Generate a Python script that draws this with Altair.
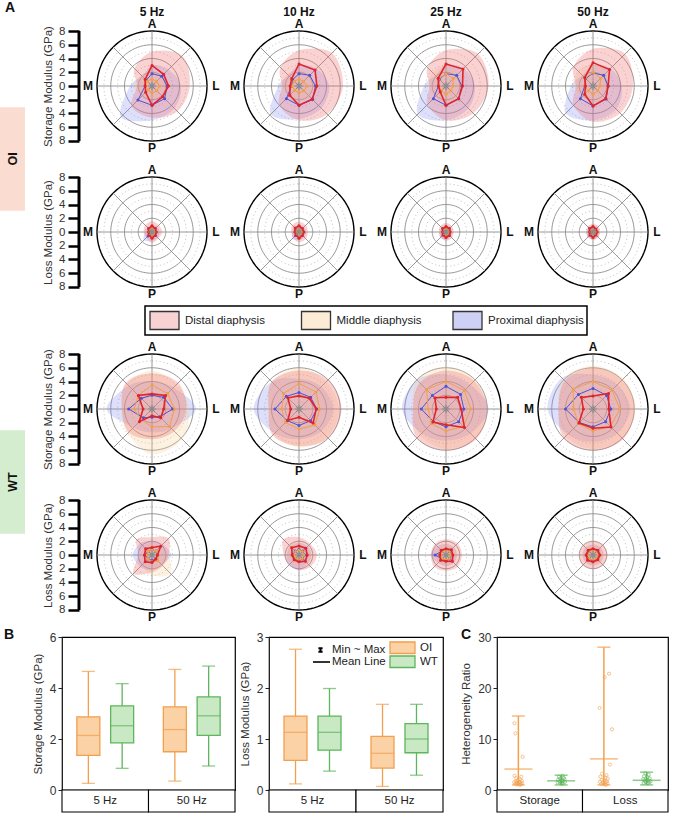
import math
import pandas as pd
import altair as alt

FONT = "Liberation Sans"

# ---------------- radar data (GPa), directions clockwise from anterior ----------------
DIRECTIONS = ["A", "A-L", "L", "L-P", "P", "P-M", "M", "M-A"]
ANGLES = [0, 45, 90, 135, 180, 225, 270, 315]
FREQS = ["5 Hz", "10 Hz", "25 Hz", "50 Hz"]
SERIES = ["Distal diaphysis", "Middle diaphysis", "Proximal diaphysis"]
GROUPS = ["OI", "WT"]

# OI storage modulus
OI_STORAGE_DISTAL_MEAN = [[3.0, 2.4, 2.4, 2.2, 2.8, 1.3, 1.0, 1.4],
                          [3.2, 3.3, 2.6, 2.7, 2.8, 1.9, 1.3, 1.5],
                          [3.2, 3.5, 2.4, 2.6, 2.8, 1.2, 1.1, 1.6],
                          [3.4, 3.4, 2.2, 2.6, 2.9, 1.7, 1.1, 1.7]]
OI_STORAGE_DISTAL_UPPER = [[5.0, 6.2, 5.5, 5.2, 4.6, 4.2, 2.2, 3.6],
                           [5.2, 6.8, 6.4, 5.8, 5.0, 4.0, 2.5, 3.8],
                           [5.2, 6.6, 6.2, 5.6, 5.0, 3.8, 2.4, 3.8],
                           [5.4, 6.6, 5.8, 5.6, 5.2, 4.0, 2.5, 4.0]]
OI_STORAGE_MIDDLE_MEAN = [[1.0, 0.9, 1.1, 1.0, 1.0, 0.8, 0.9, 1.0],
                          [1.0, 0.9, 1.2, 1.0, 1.0, 0.9, 1.0, 1.0],
                          [1.8, 1.5, 1.0, 1.0, 1.2, 1.0, 1.0, 1.5],
                          [2.0, 1.6, 1.0, 1.0, 1.2, 1.0, 1.2, 1.6]]
OI_STORAGE_MIDDLE_UPPER = [[2.2, 2.0, 2.2, 2.0, 2.0, 2.0, 2.8, 2.2],
                           [2.4, 2.2, 2.2, 2.2, 2.2, 2.0, 2.6, 2.4],
                           [3.0, 2.8, 2.4, 2.2, 2.4, 2.2, 2.6, 2.8],
                           [3.2, 3.0, 2.4, 2.2, 2.4, 2.2, 2.8, 3.0]]
OI_STORAGE_PROXIMAL_MEAN = [[1.8, 2.0, 2.2, 2.6, 2.8, 2.9, 1.0, 1.2],
                            [1.8, 2.2, 2.4, 2.8, 2.8, 2.6, 1.1, 1.3],
                            [1.8, 2.2, 2.3, 2.6, 2.8, 2.6, 1.1, 1.4],
                            [1.9, 2.2, 2.2, 2.7, 2.9, 2.6, 1.2, 1.5]]
OI_STORAGE_PROXIMAL_UPPER = [[3.0, 3.4, 4.2, 4.6, 5.0, 6.4, 3.2, 2.0],
                             [3.0, 3.6, 4.4, 4.6, 4.8, 5.8, 3.0, 2.2],
                             [3.0, 3.6, 4.2, 4.6, 5.0, 5.8, 3.2, 2.2],
                             [3.0, 3.6, 4.2, 4.8, 5.0, 5.6, 3.2, 2.2]]

# OI loss modulus
OI_LOSS_DISTAL_MEAN = [[0.9, 0.7, 0.6, 0.7, 0.9, 0.6, 0.5, 0.7],
                       [0.9, 0.7, 0.7, 0.7, 0.9, 0.6, 0.6, 0.8],
                       [0.8, 0.7, 0.6, 0.7, 0.8, 0.6, 0.5, 0.7],
                       [0.8, 0.6, 0.6, 0.6, 0.8, 0.6, 0.5, 0.7]]
OI_LOSS_DISTAL_UPPER = [[1.6, 1.4, 1.5, 1.3, 1.6, 1.2, 1.2, 1.4],
                        [1.5, 1.4, 1.3, 1.4, 1.5, 1.2, 1.1, 1.4],
                        [1.3, 1.2, 1.1, 1.2, 1.3, 1.1, 1.0, 1.2],
                        [1.2, 1.1, 1.0, 1.1, 1.2, 1.0, 1.0, 1.1]]
OI_LOSS_MIDDLE_MEAN = [[0.5, 0.4, 0.5, 0.4, 0.5, 0.4, 0.5, 0.4],
                       [0.5, 0.4, 0.5, 0.4, 0.5, 0.4, 0.5, 0.4],
                       [0.5, 0.4, 0.4, 0.4, 0.5, 0.4, 0.4, 0.4],
                       [0.5, 0.4, 0.4, 0.4, 0.5, 0.4, 0.4, 0.4]]
OI_LOSS_MIDDLE_UPPER = [[0.9, 0.8, 0.9, 0.8, 0.9, 0.8, 1.0, 0.8],
                        [0.9, 0.8, 0.9, 0.8, 0.9, 0.8, 0.9, 0.8],
                        [0.8, 0.8, 0.8, 0.8, 0.8, 0.8, 0.8, 0.8],
                        [0.8, 0.8, 0.8, 0.8, 0.8, 0.8, 0.8, 0.8]]
OI_LOSS_PROXIMAL_MEAN = [[0.5, 0.5, 0.6, 0.6, 0.7, 0.8, 0.5, 0.4],
                         [0.5, 0.5, 0.6, 0.6, 0.7, 0.7, 0.5, 0.4],
                         [0.5, 0.5, 0.5, 0.6, 0.6, 0.6, 0.5, 0.4],
                         [0.5, 0.5, 0.5, 0.5, 0.6, 0.6, 0.5, 0.4]]
OI_LOSS_PROXIMAL_UPPER = [[1.0, 1.0, 1.1, 1.2, 1.3, 1.7, 1.0, 0.9],
                          [1.0, 1.0, 1.0, 1.1, 1.2, 1.4, 0.9, 0.9],
                          [0.9, 0.9, 0.9, 1.0, 1.1, 1.2, 0.9, 0.8],
                          [0.9, 0.9, 0.9, 1.0, 1.0, 1.1, 0.9, 0.8]]

# WT storage modulus
WT_STORAGE_DISTAL_MEAN = [[2.2, 2.8, 1.7, 1.8, 1.0, 2.6, 1.3, 2.8],
                          [1.9, 2.2, 2.5, 2.9, 1.2, 2.3, 1.2, 2.3],
                          [1.7, 2.4, 2.2, 3.8, 2.3, 2.7, 1.4, 2.3],
                          [1.9, 3.2, 2.3, 3.7, 2.8, 2.9, 1.4, 2.4]]
WT_STORAGE_DISTAL_UPPER = [[5.2, 5.4, 5.0, 4.6, 4.4, 4.8, 4.4, 5.4],
                           [5.6, 6.0, 6.2, 6.0, 5.4, 5.4, 4.4, 5.6],
                           [5.6, 5.8, 6.0, 6.2, 6.0, 6.0, 4.8, 5.4],
                           [6.0, 6.0, 6.0, 6.2, 6.0, 6.0, 5.0, 5.8]]
WT_STORAGE_MIDDLE_MEAN = [[3.5, 3.2, 3.3, 3.6, 2.6, 2.2, 2.6, 2.8],
                          [3.7, 3.5, 3.0, 3.3, 2.9, 2.8, 2.5, 3.2],
                          [4.0, 3.8, 3.6, 3.6, 3.2, 3.0, 2.6, 4.0],
                          [4.0, 3.9, 3.9, 3.6, 3.2, 3.0, 2.8, 4.1]]
WT_STORAGE_MIDDLE_UPPER = [[5.6, 5.0, 5.4, 6.2, 6.6, 5.0, 4.4, 5.2],
                           [6.0, 5.6, 5.8, 5.8, 5.6, 5.2, 4.6, 5.6],
                           [6.2, 6.0, 6.0, 6.0, 5.8, 5.4, 4.8, 6.0],
                           [6.3, 6.2, 6.2, 6.0, 5.8, 5.6, 5.0, 6.2]]
WT_STORAGE_PROXIMAL_MEAN = [[2.0, 2.4, 3.0, 1.6, 1.2, 1.8, 3.4, 2.2],
                            [2.4, 2.4, 2.6, 2.4, 2.4, 2.4, 3.5, 2.6],
                            [3.3, 3.0, 2.6, 2.6, 2.6, 2.6, 3.6, 2.8],
                            [3.0, 2.8, 2.6, 2.6, 2.6, 2.8, 4.0, 3.0]]
WT_STORAGE_PROXIMAL_UPPER = [[4.0, 4.4, 6.4, 4.0, 3.4, 3.8, 6.6, 4.8],
                             [4.4, 4.6, 5.0, 4.6, 4.4, 5.0, 6.6, 5.6],
                             [5.0, 5.0, 6.2, 5.0, 4.6, 5.0, 6.4, 6.0],
                             [5.0, 5.0, 5.4, 5.0, 4.8, 5.2, 6.6, 6.4]]

# WT loss modulus
WT_LOSS_DISTAL_MEAN = [[1.1, 1.8, 0.8, 0.8, 1.1, 1.4, 1.1, 1.3],
                       [1.3, 1.4, 1.2, 1.3, 1.0, 1.0, 1.0, 1.5],
                       [0.9, 1.1, 1.0, 1.3, 0.9, 1.1, 0.9, 1.0],
                       [0.9, 1.0, 1.0, 1.0, 1.0, 1.1, 1.0, 1.0]]
WT_LOSS_DISTAL_UPPER = [[2.6, 3.4, 2.4, 2.2, 2.5, 3.8, 2.0, 3.2],
                        [2.6, 2.3, 2.6, 2.4, 2.2, 2.0, 2.2, 3.2],
                        [2.3, 2.4, 2.3, 2.4, 2.3, 2.4, 2.2, 2.3],
                        [2.0, 2.1, 2.1, 2.1, 2.0, 2.1, 2.0, 2.0]]
WT_LOSS_MIDDLE_MEAN = [[0.8, 0.8, 0.9, 1.2, 1.0, 0.8, 0.7, 0.8],
                       [0.7, 0.7, 0.7, 0.7, 0.7, 0.7, 0.7, 0.7],
                       [0.7, 0.7, 0.7, 0.7, 0.7, 0.7, 0.7, 0.7],
                       [0.7, 0.7, 0.7, 0.7, 0.7, 0.7, 0.7, 0.7]]
WT_LOSS_MIDDLE_UPPER = [[1.8, 1.8, 2.4, 3.8, 3.0, 2.0, 1.6, 1.8],
                        [1.8, 1.6, 1.8, 1.8, 1.6, 1.6, 1.6, 2.0],
                        [1.6, 1.6, 1.6, 1.6, 1.6, 1.6, 1.6, 1.6],
                        [1.6, 1.6, 1.6, 1.6, 1.6, 1.6, 1.6, 1.6]]
WT_LOSS_PROXIMAL_MEAN = [[0.8, 0.8, 0.8, 0.8, 0.8, 0.8, 1.0, 0.8],
                         [0.8, 0.8, 0.8, 0.8, 0.8, 0.8, 0.9, 0.8],
                         [0.8, 0.8, 0.8, 0.8, 0.8, 0.8, 1.6, 0.8],
                         [0.8, 0.8, 0.8, 0.8, 0.8, 0.8, 0.9, 0.8]]
WT_LOSS_PROXIMAL_UPPER = [[2.0, 2.2, 2.8, 2.0, 2.2, 2.4, 2.8, 2.4],
                          [1.8, 1.8, 1.8, 1.8, 2.2, 2.0, 1.8, 1.8],
                          [1.6, 1.6, 1.6, 1.6, 1.6, 1.6, 2.2, 1.8],
                          [1.5, 1.5, 1.5, 1.5, 1.5, 1.5, 1.5, 1.5]]

# radar grid
RING_MINOR = [1, 3, 5, 7]
RING_MAJOR = [2, 4, 6]
RING_OUTER = [8]
AXIS_TICKS = [-8, -6, -4, -2, 0, 2, 4, 6, 8]
POLE_LABELS = ["A", "L", "P", "M"]
POLE_ANGLES = [0, 90, 180, 270]
POLE_OFFSET = [8.95, 9.3, 8.95, 9.3]

# ---------------- panel B (box plots) ----------------
BOX_FREQ = ["5 Hz", "5 Hz", "50 Hz", "50 Hz"]
BOX_GROUP = ["OI", "WT", "OI", "WT"]
STORAGE_MIN = [0.26, 0.85, 0.35, 0.94]
STORAGE_Q1 = [1.36, 1.85, 1.50, 2.14]
STORAGE_MEAN = [2.14, 2.52, 2.37, 2.91]
STORAGE_Q3 = [2.87, 3.30, 3.26, 3.65]
STORAGE_MAX = [4.65, 4.17, 4.73, 4.86]
LOSS_MIN = [0.12, 0.37, 0.07, 0.29]
LOSS_Q1 = [0.58, 0.78, 0.43, 0.73]
LOSS_MEAN = [1.13, 1.13, 0.72, 1.00]
LOSS_Q3 = [1.45, 1.45, 1.05, 1.30]
LOSS_MAX = [2.76, 1.99, 1.68, 1.68]

# ---------------- panel C (heterogeneity ratio) ----------------
HR_CAT = ["Storage", "Storage", "Loss", "Loss"]
HR_GROUP = ["OI", "WT", "OI", "WT"]
HR_MIN = [1.0, 1.0, 1.0, 1.0]
HR_MEAN = [4.1, 1.8, 6.1, 1.9]
HR_MAX = [14.5, 2.9, 28.0, 3.5]
HR_STORAGE_OI = [13.1, 11.1, 6.5, 2.8, 2.6, 2.3, 2.1, 1.9, 1.8, 1.7, 1.6, 1.5, 1.4, 1.4, 1.3, 1.2, 1.2, 1.1, 1.1, 1.0]
HR_STORAGE_OI_JITTER = [-0.09, -0.07, 0.10, -0.09, 0.07, -0.05, 0.04, -0.02, 0.08, -0.06, 0.02, -0.10, 0.05, -0.03, 0.09, 0.00, -0.07, 0.06, -0.04, 0.03]
HR_STORAGE_WT = [2.8, 2.6, 2.4, 2.3, 2.1, 2.0, 1.9, 1.8, 1.7, 1.6, 1.5, 1.4, 1.3, 1.2]
HR_STORAGE_WT_JITTER = [0.03, -0.05, 0.06, -0.02, 0.08, -0.07, 0.01, 0.05, -0.04, 0.09, -0.08, 0.02, -0.01, 0.04]
HR_LOSS_OI = [22.8, 22.1, 16.1, 11.9, 5.0, 3.2, 2.9, 2.6, 2.4, 2.2, 2.0, 1.9, 1.7, 1.6, 1.5, 1.4, 1.3, 1.2, 1.1, 1.0]
HR_LOSS_OI_JITTER = [0.12, 0.02, -0.10, 0.19, 0.14, -0.04, 0.06, -0.08, 0.03, 0.09, -0.05, 0.01, 0.07, -0.09, 0.04, -0.02, 0.08, -0.06, 0.00, 0.05]
HR_LOSS_WT = [3.3, 3.0, 2.7, 2.5, 2.3, 2.1, 2.0, 1.9, 1.8, 1.7, 1.6, 1.5, 1.4, 1.3]
HR_LOSS_WT_JITTER = [-0.03, 0.05, -0.06, 0.02, 0.07, -0.08, 0.00, 0.04, -0.05, 0.09, -0.02, 0.06, -0.07, 0.03]

# ---------------- styles ----------------
SERIES_FILL = ["#ef6b6b", "#f9c98a", "#8088ef"]
SERIES_OPACITY = [0.3, 0.26, 0.26]
SERIES_LINE = ["#e0242c", "#f0a04b", "#4c52d6"]
SWATCH_FILL = ["#f8d2d2", "#fcebd5", "#cfd0f6"]
DARK = ["#f2a04e", "#5db55d"]
LIGHT = ["#fbd1a6", "#c9e8c4"]
OI_STRIP = "#fadcd1"
WT_STRIP = "#d5edcf"
STAR = "M0,-1V1M-1,0H1M-0.7,-0.7L0.7,0.7M-0.7,0.7L0.7,-0.7"
SWATCH_SHAPE = "M-1,-0.62H1V0.62H-1Z"
IBEAM = "M-0.4,-0.35H0.4M0,-0.35V0.35M-0.4,0.35H0.4"
LEGEND_KINDS = ["Min ~ Max", "Mean Line"]
TXT = 11.5

RD = 10.62       # half extent of a radar panel in GPa
PW = 146         # radar panel size (px)
HEADER_POS = 10.5
RING_STEP = 4    # sampling step (degrees) used to trace the circular grid lines

SOURCES = {
    ("OI", "Storage", 0, "mean"): OI_STORAGE_DISTAL_MEAN, ("OI", "Storage", 0, "upper"): OI_STORAGE_DISTAL_UPPER,
    ("OI", "Storage", 1, "mean"): OI_STORAGE_MIDDLE_MEAN, ("OI", "Storage", 1, "upper"): OI_STORAGE_MIDDLE_UPPER,
    ("OI", "Storage", 2, "mean"): OI_STORAGE_PROXIMAL_MEAN, ("OI", "Storage", 2, "upper"): OI_STORAGE_PROXIMAL_UPPER,
    ("OI", "Loss", 0, "mean"): OI_LOSS_DISTAL_MEAN, ("OI", "Loss", 0, "upper"): OI_LOSS_DISTAL_UPPER,
    ("OI", "Loss", 1, "mean"): OI_LOSS_MIDDLE_MEAN, ("OI", "Loss", 1, "upper"): OI_LOSS_MIDDLE_UPPER,
    ("OI", "Loss", 2, "mean"): OI_LOSS_PROXIMAL_MEAN, ("OI", "Loss", 2, "upper"): OI_LOSS_PROXIMAL_UPPER,
    ("WT", "Storage", 0, "mean"): WT_STORAGE_DISTAL_MEAN, ("WT", "Storage", 0, "upper"): WT_STORAGE_DISTAL_UPPER,
    ("WT", "Storage", 1, "mean"): WT_STORAGE_MIDDLE_MEAN, ("WT", "Storage", 1, "upper"): WT_STORAGE_MIDDLE_UPPER,
    ("WT", "Storage", 2, "mean"): WT_STORAGE_PROXIMAL_MEAN, ("WT", "Storage", 2, "upper"): WT_STORAGE_PROXIMAL_UPPER,
    ("WT", "Loss", 0, "mean"): WT_LOSS_DISTAL_MEAN, ("WT", "Loss", 0, "upper"): WT_LOSS_DISTAL_UPPER,
    ("WT", "Loss", 1, "mean"): WT_LOSS_MIDDLE_MEAN, ("WT", "Loss", 1, "upper"): WT_LOSS_MIDDLE_UPPER,
    ("WT", "Loss", 2, "mean"): WT_LOSS_PROXIMAL_MEAN, ("WT", "Loss", 2, "upper"): WT_LOSS_PROXIMAL_UPPER,
}

rows = []
for (g, m, si, k), arr in SOURCES.items():
    for fi, f in enumerate(FREQS):
        for i, (d, a) in enumerate(zip(DIRECTIONS, ANGLES)):
            rows.append(dict(group=g, modulus=m, series=SERIES[si], kind=k, freq=f,
                             idx=i, dir=d, angle=a, value=arr[fi][i]))
RADAR = pd.DataFrame(rows)


def ring_frame(radii):
    out = []
    for r in radii:
        for deg in range(0, 360 + RING_STEP, RING_STEP):
            out.append(dict(ring=r, value=r, angle=deg))
    return pd.DataFrame(out)


RINGS = [(ring_frame(RING_MINOR), dict(color="#bdbdbd", strokeWidth=0.8, strokeDash=[1.2, 2.6])),
         (ring_frame(RING_MAJOR), dict(color="#8c8c8c", strokeWidth=0.9)),
         (ring_frame(RING_OUTER), dict(color="black", strokeWidth=1.4))]


def polar(ch):
    return ch.transform_calculate(px="datum.value*sin(datum.angle*PI/180)",
                                  py="datum.value*cos(datum.angle*PI/180)")


def radar_panel(g, m, fi, first, header):
    sub = RADAR[(RADAR["group"] == g) & (RADAR["modulus"] == m) & (RADAR["freq"] == FREQS[fi])]
    xs = alt.Scale(domain=[-RD, RD], nice=False, zero=False)
    ys = alt.Scale(domain=[-RD, RD], nice=False, zero=False)
    if first:
        ax = alt.Axis(values=AXIS_TICKS, labelExpr="abs(datum.value)", title=f"{m} Modulus (GPa)",
                      domain=False, grid=False, tickColor="black", tickWidth=2.5, tickSize=11,
                      labelFontSize=11.5, labelColor="#333", labelPadding=3, titleFontSize=TXT,
                      titleFontWeight="normal", titleColor="#333", titlePadding=5)
    else:
        ax = None

    def X(f):
        return alt.X(f, type="quantitative", scale=xs, axis=None)

    def Y(f):
        return alt.Y(f, type="quantitative", scale=ys, axis=ax)

    layers = []
    for frame, style in RINGS:
        layers.append(polar(alt.Chart(frame)).mark_line(**style).encode(
            x=X("px"), y=Y("py"), detail="ring:N", order=alt.Order("angle:Q")))

    spokes = pd.DataFrame({"angle": ANGLES, "value": [RING_OUTER[0]] * len(ANGLES), "origin": [0] * len(ANGLES)})
    layers.append(polar(alt.Chart(spokes)).mark_rule(color="#8c8c8c", strokeWidth=0.9).encode(
        x=X("origin"), y=Y("origin"), x2="px:Q", y2="py:Q"))

    for si in [2, 1, 0]:
        d = sub[(sub["series"] == SERIES[si]) & (sub["kind"] == "upper")]
        layers.append(polar(alt.Chart(d)).mark_line(
            interpolate="cardinal-closed", fill=SERIES_FILL[si], fillOpacity=SERIES_OPACITY[si],
            strokeOpacity=0).encode(x=X("px"), y=Y("py"), order=alt.Order("idx:Q")))

    for si in [2, 1, 0]:
        d = sub[(sub["series"] == SERIES[si]) & (sub["kind"] == "mean")]
        c = polar(alt.Chart(d))
        layers.append(c.mark_line(interpolate="linear-closed", color=SERIES_LINE[si],
                                  strokeWidth=1.6 if si == 0 else 1.0).encode(
            x=X("px"), y=Y("py"), order=alt.Order("idx:Q")))
        layers.append(c.mark_circle(size=9, color=SERIES_LINE[si], opacity=1).encode(x=X("px"), y=Y("py")))

    layers.append(alt.Chart(pd.DataFrame({"origin": [0]})).mark_point(
        shape=STAR, size=70, stroke="#8a8a8a", strokeWidth=1.2, filled=False, opacity=1).encode(
        x=X("origin"), y=Y("origin")))

    poles = pd.DataFrame({"label": POLE_LABELS, "angle": POLE_ANGLES, "value": POLE_OFFSET})
    layers.append(polar(alt.Chart(poles)).mark_text(fontWeight="bold", fontSize=12, color="#111").encode(
        x=X("px"), y=Y("py"), text="label:N"))

    if header:
        layers.append(alt.Chart(pd.DataFrame({"label": [FREQS[fi]], "h": [0], "v": [HEADER_POS]})).mark_text(
            fontWeight="bold", fontSize=12, color="#111", baseline="bottom", dy=5).encode(
            x=X("h"), y=Y("v"), text="label:N"))

    if first:
        layers.append(alt.Chart(pd.DataFrame({"edge": [-RD], "lo": [AXIS_TICKS[0]], "hi": [AXIS_TICKS[-1]]})).mark_rule(
            color="black", strokeWidth=3).encode(x=X("edge"), y=Y("lo"), y2="hi:Q"))

    return alt.layer(*layers).properties(width=PW, height=PW)


def strip_piece(label, color, row, start, end, letter=None):
    """One row-high slice of the group label strip spanning rows start..end."""
    ys = alt.Scale(domain=[row - 0.5, row + 0.5], reverse=True, nice=False, zero=False)
    df = pd.DataFrame({"label": [label], "start": [start], "end": [end], "row": [row]})
    base = alt.Chart(df).transform_calculate(
        y0="max(datum.start+0.145, datum.row-0.5)", y1="min(datum.end-0.145, datum.row+0.5)",
        mid="(datum.start+datum.end)/2", top="datum.row-0.5")
    layers = [base.mark_rect(color=color).encode(x=alt.value(0), x2=alt.value(25),
                                                 y=alt.Y("y0:Q", scale=ys, axis=None), y2="y1:Q")]
    if row == end:
        layers.append(base.mark_text(angle=270, fontWeight="bold", fontSize=12.5, color="#111").encode(
            x=alt.value(12.5), y=alt.Y("mid:Q", scale=ys, axis=None), text="label:N"))
    if letter:
        layers.append(base.mark_text(fontWeight="bold", fontSize=14, dy=-5, color="#111").encode(
            x=alt.value(10), y=alt.Y("top:Q", scale=ys, axis=None), text=alt.value(letter)))
    return alt.layer(*layers).properties(width=25, height=PW)


def spacer(w, h, letter=None, lx=0):
    ch = alt.Chart(pd.DataFrame({"v": [0]}))
    base = ch.mark_rule(opacity=0, color="white").encode(
        x=alt.value(0), x2=alt.value(w), y=alt.value(0), y2=alt.value(h))
    if letter:
        lab = ch.mark_text(fontWeight="bold", fontSize=14, color="#111", align="left", baseline="middle").encode(
            x=alt.value(lx), y=alt.value(6), text=alt.value(letter))
        return alt.layer(base, lab).properties(width=w, height=h)
    return base.properties(width=w, height=h)


def legend_chart():
    df = pd.DataFrame({"series": SERIES})
    X = alt.X("series:N", scale=alt.Scale(domain=SERIES, range=[0, 454.5], paddingInner=0, paddingOuter=0), axis=None)
    sw = alt.Chart(df).mark_point(shape=SWATCH_SHAPE, size=841, filled=True, stroke="#333", strokeWidth=1.3,
                                  opacity=1, xOffset=-56.25).encode(
        x=X, fill=alt.Fill("series:N", scale=alt.Scale(domain=SERIES, range=SWATCH_FILL), legend=None))
    tx = alt.Chart(df).mark_text(align="left", dx=-35.75, fontSize=TXT, color="#222").encode(x=X, text="series:N")
    return alt.layer(sw, tx).properties(width=442, height=29,
                                        view=alt.ViewBackground(stroke="black", strokeWidth=1.5))


def band_chart(cats, width):
    df = pd.DataFrame({"cat": cats})
    X = alt.X("cat:N", scale=alt.Scale(domain=cats, paddingInner=0, paddingOuter=0), axis=None)
    cells = alt.Chart(df).mark_rect(fill="white", stroke="black", strokeWidth=1.1).encode(x=X)
    labels = alt.Chart(df).mark_text(fontSize=TXT, color="#222").encode(x=X, text="cat:N")
    return alt.layer(cells, labels).properties(width=width, height=22)


def yaxis(vals, title):
    return alt.Axis(values=vals, title=title, grid=False, domainColor="#222", tickColor="#222", tickSize=4,
                    labelFontSize=12, labelColor="#333", labelPadding=2, titleFontSize=TXT,
                    titleFontWeight="normal", titleColor="#333", titlePadding=6)


def box_key_layers():
    """Key drawn inside the loss-modulus box plot (whisker, mean line, groups)."""
    one = pd.DataFrame({"k": [0]})
    layers = [
        alt.Chart(one).mark_point(shape=IBEAM, size=110, filled=False, color="black", strokeWidth=2,
                                  opacity=1).encode(x=alt.value(51.5), y=alt.value(13)),
        alt.Chart(one).mark_rule(color="black", strokeWidth=1.6).encode(
            x=alt.value(44), x2=alt.value(61), y=alt.value(25)),
    ]
    for i, lab in enumerate(LEGEND_KINDS):
        layers.append(alt.Chart(one).mark_text(align="left", fontSize=TXT, color="#222").encode(
            x=alt.value(63), y=alt.value(13 + 12 * i), text=alt.value(lab)))
    for i, grp in enumerate(GROUPS):
        layers.append(alt.Chart(one).mark_rect(fill=LIGHT[i], stroke=DARK[i], strokeWidth=1.3).encode(
            x=alt.value(121), x2=alt.value(146), y=alt.value(5 + 14 * i), y2=alt.value(16.5 + 14 * i)))
        layers.append(alt.Chart(one).mark_text(align="left", fontSize=TXT, color="#222").encode(
            x=alt.value(151), y=alt.value(11 + 14 * i), text=alt.value(grp)))
    return layers


def box_chart(mn, q1, mean, q3, mx, ydom, yvals, ytitle, width, key=False):
    df = pd.DataFrame({"freq": BOX_FREQ, "group": BOX_GROUP, "mn": mn, "q1": q1, "mean": mean, "q3": q3, "mx": mx})
    X = alt.X("freq:N", scale=alt.Scale(domain=["5 Hz", "50 Hz"], paddingInner=0, paddingOuter=0), axis=None)
    XO = alt.XOffset("group:N", scale=alt.Scale(domain=GROUPS, paddingInner=0, paddingOuter=0.28))
    ys = alt.Scale(domain=ydom, nice=False, zero=True)
    ax = yaxis(yvals, ytitle)

    def Y(f):
        return alt.Y(f, type="quantitative", scale=ys, axis=ax)

    col = alt.Color("group:N", scale=alt.Scale(domain=GROUPS, range=DARK), legend=None)
    base = alt.Chart(df)
    layers = [
        base.mark_rule(strokeWidth=1.3).encode(x=X, xOffset=XO, y=Y("mn"), y2="mx:Q", color=col),
        base.mark_tick(size=13, thickness=1.3).encode(x=X, xOffset=XO, y=Y("mn"), color=col),
        base.mark_tick(size=13, thickness=1.3).encode(x=X, xOffset=XO, y=Y("mx"), color=col),
    ]
    for i, grp in enumerate(GROUPS):
        layers.append(base.transform_filter(alt.datum.group == grp).mark_bar(
            width=23, strokeWidth=1.3, opacity=1, fill=LIGHT[i], stroke=DARK[i]).encode(
            x=X, xOffset=XO, y=Y("q1"), y2="q3:Q"))
    layers.append(base.mark_tick(size=23, thickness=1.3).encode(x=X, xOffset=XO, y=Y("mean"), color=col))
    if key:
        layers += box_key_layers()
    return alt.layer(*layers).properties(width=width, height=153,
                                         view=alt.ViewBackground(stroke="black", strokeWidth=1.2))


def hr_chart(width):
    summ = pd.DataFrame({"cat": HR_CAT, "group": HR_GROUP, "mn": HR_MIN, "mean": HR_MEAN, "mx": HR_MAX})
    summ["pos"] = [GROUPS.index(g) for g in HR_GROUP]
    pts = []
    for cat, g, vals, jit in [("Storage", "OI", HR_STORAGE_OI, HR_STORAGE_OI_JITTER),
                              ("Storage", "WT", HR_STORAGE_WT, HR_STORAGE_WT_JITTER),
                              ("Loss", "OI", HR_LOSS_OI, HR_LOSS_OI_JITTER),
                              ("Loss", "WT", HR_LOSS_WT, HR_LOSS_WT_JITTER)]:
        for v, j in zip(vals, jit):
            pts.append(dict(cat=cat, group=g, value=v, pos=GROUPS.index(g) + j))
    pts = pd.DataFrame(pts)
    X = alt.X("cat:N", scale=alt.Scale(domain=["Storage", "Loss"], paddingInner=0, paddingOuter=0), axis=None)
    XO = alt.XOffset("pos:Q", scale=alt.Scale(domain=[-0.5, 1.5], nice=False, zero=False))
    ys = alt.Scale(domain=[0, 30], nice=False, zero=True)
    ax = yaxis([0, 10, 20, 30], "Heterogeneity Ratio")

    def Y(f):
        return alt.Y(f, type="quantitative", scale=ys, axis=ax)

    col = alt.Color("group:N", scale=alt.Scale(domain=GROUPS, range=DARK), legend=None)
    b = alt.Chart(summ)
    layers = [
        b.mark_rule(strokeWidth=1.5).encode(x=X, xOffset=XO, y=Y("mn"), y2="mx:Q", color=col),
        b.mark_tick(size=13, thickness=1.5).encode(x=X, xOffset=XO, y=Y("mn"), color=col),
        b.mark_tick(size=13, thickness=1.5).encode(x=X, xOffset=XO, y=Y("mx"), color=col),
        b.mark_tick(size=28, thickness=1.5).encode(x=X, xOffset=XO, y=Y("mean"), color=col),
        alt.Chart(pts).mark_point(size=10, strokeWidth=0.9, opacity=0.7, filled=False).encode(
            x=X, xOffset=XO, y=Y("value"), color=col),
    ]
    return alt.layer(*layers).properties(width=width, height=153,
                                         view=alt.ViewBackground(stroke="black", strokeWidth=1.2))


def radar_cells(g, m, header):
    return [radar_panel(g, m, fi, fi == 0, header) for fi in range(4)]


def grid(items, columns):
    return alt.concat(*items, columns=columns, spacing={"row": 0, "column": 1}, bounds="flush")


oi_grid = grid([strip_piece("OI", OI_STRIP, 0, 0, 1, letter="A"), spacer(52, PW)] + radar_cells("OI", "Storage", True)
               + [strip_piece("OI", OI_STRIP, 1, 0, 1), spacer(52, PW)] + radar_cells("OI", "Loss", False), 6)
legend_grid = grid([spacer(144, 29), legend_chart()], 2)
wt_grid = grid([strip_piece("WT", WT_STRIP, 0, 0, 1), spacer(52, PW)] + radar_cells("WT", "Storage", False)
               + [strip_piece("WT", WT_STRIP, 1, 0, 1), spacer(52, PW)] + radar_cells("WT", "Loss", False), 6)
bottom_grid = grid(
    [spacer(61, 8, "B", 4), spacer(173, 8), spacer(32, 8), spacer(174, 8), spacer(52, 8, "C", 17), spacer(171, 8),
     spacer(61, 153),
     box_chart(STORAGE_MIN, STORAGE_Q1, STORAGE_MEAN, STORAGE_Q3, STORAGE_MAX,
               [0, 6], [0, 2, 4, 6], "Storage Modulus (GPa)", 173),
     spacer(32, 153),
     box_chart(LOSS_MIN, LOSS_Q1, LOSS_MEAN, LOSS_Q3, LOSS_MAX,
               [0, 3], [0, 1, 2, 3], "Loss Modulus (GPa)", 174, key=True),
     spacer(52, 153),
     hr_chart(171),
     spacer(61, 22), band_chart(["5 Hz", "50 Hz"], 173), spacer(32, 22),
     band_chart(["5 Hz", "50 Hz"], 174), spacer(52, 22), band_chart(["Storage", "Loss"], 171)], 6)

chart = alt.vconcat(oi_grid, legend_grid, wt_grid, bottom_grid, spacing=0).properties(
    padding={"left": 0, "top": 1, "right": 0, "bottom": 0}, background="white"
).configure(font=FONT).configure_view(strokeWidth=0)

chart.save("out.html", embed_options={"renderer": "svg", "actions": False})
